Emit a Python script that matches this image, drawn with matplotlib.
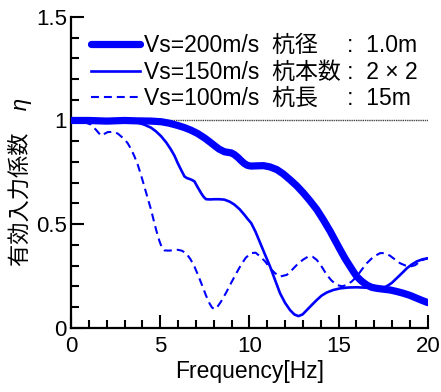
import matplotlib
matplotlib.use("Agg")
import matplotlib.pyplot as plt
import numpy as np

plt.rcParams['font.family'] = ['Liberation Sans', 'Noto Sans CJK JP', 'DejaVu Sans']

# Data
f200 = [0, 1, 2, 3, 3.74, 4.5, 5.05, 5.5, 5.98, 6.35, 6.73, 7.1, 7.48, 7.76, 8.04, 8.3, 8.6, 8.8, 8.97, 9.15, 9.35, 9.55, 9.72, 9.9, 10.1, 10.4, 10.79, 11.15, 11.54, 11.9, 12.28, 12.65, 13.03, 13.4, 13.78, 14.15, 14.53, 14.8, 15.09, 15.37, 15.65, 15.85, 16.02, 16.3, 16.58, 16.85, 17.14, 17.5, 17.89, 18.25, 18.64, 19.0, 19.39, 19.7, 20.0]
v200 = [1.0, 1.0, 0.997, 1.0, 0.998, 0.997, 0.994, 0.987, 0.976, 0.966, 0.953, 0.937, 0.916, 0.898, 0.879, 0.862, 0.849, 0.846, 0.844, 0.836, 0.822, 0.805, 0.792, 0.783, 0.78, 0.781, 0.782, 0.776, 0.763, 0.742, 0.714, 0.685, 0.65, 0.612, 0.57, 0.52, 0.465, 0.422, 0.376, 0.333, 0.295, 0.268, 0.247, 0.224, 0.206, 0.195, 0.19, 0.186, 0.182, 0.175, 0.166, 0.156, 0.142, 0.131, 0.121]

f150 = [0, 1, 2, 3, 3.74, 4.1, 4.49, 4.77, 5.05, 5.33, 5.6, 5.8, 5.98, 6.17, 6.36, 6.5, 6.64, 6.78, 6.92, 7.1, 7.29, 7.43, 7.57, 7.8, 8.04, 8.3, 8.6, 8.9, 9.16, 9.45, 9.72, 9.9, 10.1, 10.35, 10.6, 10.88, 11.16, 11.44, 11.72, 12.0, 12.28, 12.52, 12.75, 12.98, 13.22, 13.5, 13.78, 14.05, 14.34, 14.7, 15.09, 15.55, 16.02, 16.6, 17.14, 17.42, 17.7, 17.98, 18.26, 18.55, 18.83, 19.1, 19.39, 19.7, 20.0]
v150 = [1.0, 1.0, 0.995, 0.998, 0.99, 0.98, 0.965, 0.947, 0.924, 0.895, 0.86, 0.83, 0.795, 0.762, 0.73, 0.722, 0.718, 0.713, 0.706, 0.678, 0.65, 0.632, 0.62, 0.619, 0.62, 0.62, 0.618, 0.608, 0.594, 0.572, 0.545, 0.525, 0.505, 0.462, 0.41, 0.352, 0.295, 0.23, 0.166, 0.12, 0.085, 0.064, 0.056, 0.064, 0.085, 0.11, 0.134, 0.155, 0.17, 0.182, 0.19, 0.194, 0.195, 0.193, 0.189, 0.19, 0.2, 0.216, 0.239, 0.263, 0.287, 0.305, 0.32, 0.33, 0.335]

f100 = [0, 0.6, 1.12, 1.4, 1.68, 2.06, 2.35, 2.62, 2.99, 3.18, 3.36, 3.55, 3.74, 3.92, 4.11, 4.3, 4.49, 4.63, 4.77, 4.95, 5.1, 5.23, 5.5, 5.98, 6.2, 6.45, 6.7, 6.92, 7.15, 7.38, 7.57, 7.76, 7.9, 8.04, 8.2, 8.41, 8.7, 8.97, 9.25, 9.53, 9.8, 10.1, 10.35, 10.6, 10.9, 11.16, 11.44, 11.72, 12.1, 12.4, 12.66, 13.0, 13.31, 13.55, 13.78, 14.05, 14.34, 14.6, 14.9, 15.2, 15.46, 15.75, 16.02, 16.3, 16.58, 16.95, 17.33, 17.6, 17.89, 18.15, 18.45, 18.75, 19.01, 19.3, 19.57, 19.8, 20.0]
v100 = [1.0, 0.997, 0.98, 0.955, 0.927, 0.944, 0.945, 0.937, 0.91, 0.89, 0.863, 0.828, 0.787, 0.738, 0.682, 0.625, 0.569, 0.52, 0.473, 0.42, 0.385, 0.373, 0.372, 0.376, 0.372, 0.36, 0.33, 0.295, 0.248, 0.198, 0.155, 0.118, 0.098, 0.089, 0.1, 0.126, 0.17, 0.215, 0.26, 0.303, 0.338, 0.36, 0.362, 0.344, 0.318, 0.287, 0.263, 0.247, 0.255, 0.28, 0.303, 0.328, 0.344, 0.342, 0.327, 0.295, 0.255, 0.228, 0.206, 0.2, 0.206, 0.224, 0.247, 0.28, 0.311, 0.342, 0.36, 0.36, 0.347, 0.33, 0.311, 0.3, 0.295, 0.302, 0.32, 0.33, 0.335]

labels = ["Vs=200m/s  杭径\u3000 :  1.0m",
          "Vs=150m/s  杭本数 :  2 × 2",
          "Vs=100m/s  杭長\u3000 :  15m"]
yticks = [0, 0.5, 1, 1.5]
yticklabels = ["0", "0.5", "1", "1.5"]
xticks = [0, 5, 10, 15, 20]

blue = "#0000ff"
fig = plt.figure(figsize=(4.41, 3.92), dpi=100)
ax = fig.add_axes([0.161, 0.164, 0.809, 0.793])

ax.plot([0, 20], [1, 1], color="#444444", lw=1.0, ls=(0, (1, 0.6)), zorder=1)
ax.plot(f200, v200, color=blue, lw=5.2, solid_capstyle='round', solid_joinstyle='round',
        label=labels[0], zorder=3)
ax.plot(f150, v150, color=blue, lw=1.9, solid_joinstyle='round', label=labels[1], zorder=2)
ax.plot(f100, v100, color=blue, lw=1.5, dashes=(3.8, 2.4), label=labels[2], zorder=2)

ax.set_xlim(0, 20)
ax.set_ylim(0, 1.5)
ax.set_xticks(xticks)
ax.set_xticklabels([str(x) for x in xticks])
ax.set_yticks(yticks)
ax.set_yticklabels(yticklabels)
ax.set_xticks(np.arange(0, 21, 1), minor=True)
ax.set_yticks(np.arange(0, 1.51, 0.1), minor=True)
for s in ['top', 'right']:
    ax.spines[s].set_visible(False)
for s in ['left', 'bottom']:
    ax.spines[s].set_linewidth(1.6)
ax.tick_params(which='major', direction='in', length=9.5, width=1.5, labelsize=16)
ax.tick_params(which='minor', direction='in', length=5.8, width=1.5)
ax.tick_params(axis='x', pad=6)
ax.tick_params(axis='y', pad=3)

ax.set_xlabel("Frequency[Hz]", fontsize=16.5, labelpad=2)
ax.set_ylabel("有効入力係数\u3000η", fontsize=16, fontstyle='italic')
ax.yaxis.set_label_coords(-0.108, 0.47)

leg = ax.legend(loc='upper left', bbox_to_anchor=(0.055, 0.945), frameon=False,
                prop={'size': 16.5}, handlelength=2.15, handletextpad=0.2, labelspacing=0.16,
                borderaxespad=0, borderpad=0)

fig.savefig("out.png", dpi=100)
